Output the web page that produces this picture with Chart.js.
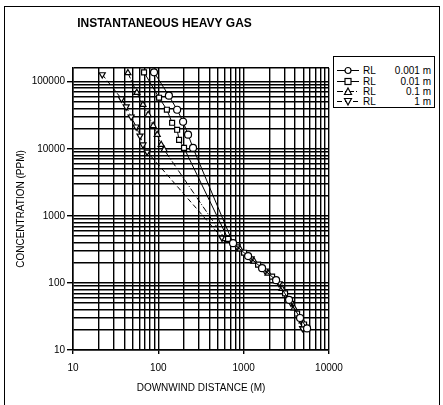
<!DOCTYPE html>
<html>
<head>
<meta charset="utf-8">
<script src="https://cdn.jsdelivr.net/npm/chart.js@4.4.1/dist/chart.umd.min.js"></script>
<style>
  body { margin: 0; background: #fff; }
  #page { position: relative; width: 443px; height: 405px; overflow: hidden; font-family: "Liberation Sans", Arial, sans-serif; }
  #frame { position: absolute; left: 4px; top: 6px; width: 434px; height: 420px; border-left: 1.5px solid #000; border-top: 1.5px solid #000; border-right: 1.5px solid #000; }
  #wrap { position: absolute; left: 0; top: 0; width: 400px; height: 405px; }
  #legend { position: absolute; left: 333px; top: 56px; width: 100px; height: 50px; border: 1px solid #000; background: #fff; font-size: 10px; color: #000; }
  .row { position: absolute; left: 0; width: 100px; height: 11px; line-height: 11px; }
  .row svg { position: absolute; left: 3px; top: 0; }
  .row .rl { position: absolute; left: 29px; }
  .row .val { position: absolute; right: 3px; }
</style>
</head>
<body>
<div id="page">
  <div id="frame"></div>
  <div id="wrap"><canvas id="chart"></canvas></div>
  <div id="legend"></div>
</div>
<script>
// distances in m, concentrations in ppm
var seriesNames = ['RL', 'RL', 'RL', 'RL'];
var seriesUnits = ['0.001 m', '0.01 m', '0.1 m', '1 m'];

var dist0001 = [89, 133, 166, 195, 223, 255, 751, 1127, 1644, 2399, 3404, 4581, 5534];
var conc0001 = [138000, 61800, 38200, 25300, 16200, 10300, 392, 251, 166, 110, 56, 30, 21];

var dist001 = [68, 102, 126, 145, 166, 175, 200, 656, 1011, 1476, 2153, 3055, 4227, 5105];
var conc001 = [138000, 57700, 38200, 24400, 19200, 13600, 10300, 454, 282, 187, 124, 70, 35, 24];

var dist01 = [44, 56, 66, 76, 87, 97, 108, 117, 605, 907, 1324, 1932, 2818, 3899, 4842];
var conc01 = [135000, 68500, 45400, 32100, 22000, 16200, 11500, 9660, 454, 318, 210, 139, 82, 42, 27];

var dist1 = [22, 37, 42, 48, 55, 61, 66, 74, 558, 837, 1222, 1782, 2600, 3597, 4900];
var conc1 = [128000, 55700, 42400, 30000, 21300, 15600, 11500, 9000, 470, 348, 230, 152, 98, 50, 21];

var xTickLabels = ['10', '100', '1000', '10000'];
var yTickLabels = ['10', '100', '1000', '10000', '100000'];
var xMin = 10, xMax = 10000, yMin = 10, yMax = 160000;

function toPoints(xs, ys) {
    return xs.map(function (x, i) { return { x: x, y: ys[i] }; });
}

// grid lines at 1..9 of every decade
function decadeTicks(min, max) {
    var list = [];
    for (var e = min; e < max; e *= 10) {
        for (var k = 1; k < 10; k++) {
            if (k * e <= max) list.push(k * e);
        }
    }
    if (list[list.length - 1] !== max) list.push(max);
    return list;
}

var styles = [
    { pointStyle: 'circle', rotation: 0, dash: [] },
    { pointStyle: 'rect', rotation: 0, dash: [] },
    { pointStyle: 'triangle', rotation: 0, dash: [6, 2, 1, 2] },
    { pointStyle: 'triangle', rotation: 180, dash: [5, 3] }
];
var allDist = [dist0001, dist001, dist01, dist1];
var allConc = [conc0001, conc001, conc01, conc1];

var datasets = allDist.map(function (d, i) {
    return {
        label: seriesNames[i] + ' ' + seriesUnits[i],
        data: toPoints(d, allConc[i]),
        showLine: true,
        borderColor: '#000',
        borderWidth: 1,
        borderDash: styles[i].dash,
        backgroundColor: '#fff',
        pointStyle: styles[i].pointStyle,
        rotation: styles[i].rotation,
        pointRadius: 3.5,
        pointBorderWidth: 1.2,
        pointBorderColor: '#000',
        pointBackgroundColor: '#fff'
    };
});

var tickFont = { family: '"Liberation Sans", Arial, sans-serif', size: 10 };

function majorOnly(labels) {
    return function (value) {
        var s = String(Math.round(value));
        return labels.indexOf(s) >= 0 ? s : '';
    };
}

var options = {
    type: 'scatter',
    data: { datasets: datasets },
    options: {
        responsive: false,
        animation: false,
        layout: { padding: { top: 0, right: 71, bottom: 0, left: 0 } },
        plugins: {
            legend: { display: false },
            tooltip: { enabled: false },
            title: {
                display: true,
                text: 'INSTANTANEOUS HEAVY GAS',
                color: '#000',
                font: { family: '"Liberation Sans", Arial, sans-serif', size: 12, weight: 'bold' },
                padding: { top: 16, bottom: 37.6 }
            }
        },
        scales: {
            x: {
                type: 'logarithmic',
                min: xMin,
                max: xMax,
                afterBuildTicks: function (axis) {
                    axis.ticks = decadeTicks(xMin, xMax).map(function (v) { return { value: v }; });
                },
                afterFit: function (axis) { axis.height = 55; },
                grid: {
                    color: '#000',
                    lineWidth: 1.4,
                    tickLength: 4,
                    tickColor: function (ctx) {
                        return xTickLabels.indexOf(String(ctx.tick.value)) >= 0 ? '#000' : 'rgba(0,0,0,0)';
                    }
                },
                border: { color: '#000', width: 1.5 },
                ticks: {
                    autoSkip: false,
                    maxRotation: 0,
                    padding: 8,
                    color: '#000',
                    font: tickFont,
                    callback: majorOnly(xTickLabels)
                },
                title: {
                    display: true,
                    text: 'DOWNWIND DISTANCE (M)',
                    color: '#000',
                    font: tickFont,
                    padding: { top: 0, bottom: 11 }
                }
            },
            y: {
                type: 'logarithmic',
                min: yMin,
                max: yMax,
                afterBuildTicks: function (axis) {
                    axis.ticks = decadeTicks(yMin, yMax).map(function (v) { return { value: v }; });
                },
                afterFit: function (axis) { axis.width = 73; },
                grid: {
                    color: '#000',
                    lineWidth: 1.4,
                    tickLength: 6,
                    tickColor: function (ctx) {
                        return yTickLabels.indexOf(String(ctx.tick.value)) >= 0 ? '#000' : 'rgba(0,0,0,0)';
                    }
                },
                border: { color: '#000', width: 1.5 },
                ticks: {
                    autoSkip: false,
                    padding: 2,
                    color: '#000',
                    font: tickFont,
                    callback: majorOnly(yTickLabels)
                },
                title: {
                    display: true,
                    text: 'CONCENTRATION (PPM)',
                    color: '#000',
                    font: tickFont,
                    padding: { top: 15, bottom: 0 }
                }
            }
        }
    }
};

function buildLegend() {
    var box = document.getElementById('legend');
    var rowCenters = [13, 24, 34, 44];
    seriesUnits.forEach(function (unit, i) {
        var row = document.createElement('div');
        row.className = 'row';
        row.style.top = (rowCenters[i] - 5.5) + 'px';
        var st = styles[i];
        var marker = '';
        if (st.pointStyle === 'circle') {
            marker = '<circle cx="11" cy="5.5" r="3" fill="#fff" stroke="#000" stroke-width="1.2"/>';
        } else if (st.pointStyle === 'rect') {
            marker = '<rect x="8" y="2.5" width="6" height="6" fill="#fff" stroke="#000" stroke-width="1.2"/>';
        } else if (st.rotation === 0) {
            marker = '<polygon points="11,2 14.5,8.5 7.5,8.5" fill="#fff" stroke="#000" stroke-width="1.2"/>';
        } else {
            marker = '<polygon points="11,9 14.5,2.5 7.5,2.5" fill="#fff" stroke="#000" stroke-width="1.2"/>';
        }
        var dash = st.dash.length ? ' stroke-dasharray="' + st.dash.join(',') + '"' : '';
        row.innerHTML = '<svg width="22" height="11"><line x1="0" y1="5.5" x2="22" y2="5.5" stroke="#000" stroke-width="1"' + dash + '/>' + marker + '</svg>' +
            '<span class="rl">' + seriesNames[i] + '</span><span class="val">' + unit + '</span>';
        box.appendChild(row);
    });
}

var canvas = document.getElementById('chart');
canvas.width = 400;
canvas.height = 405;
var theChart = new Chart(canvas.getContext('2d'), options);
buildLegend();
</script>
</body>
</html>
